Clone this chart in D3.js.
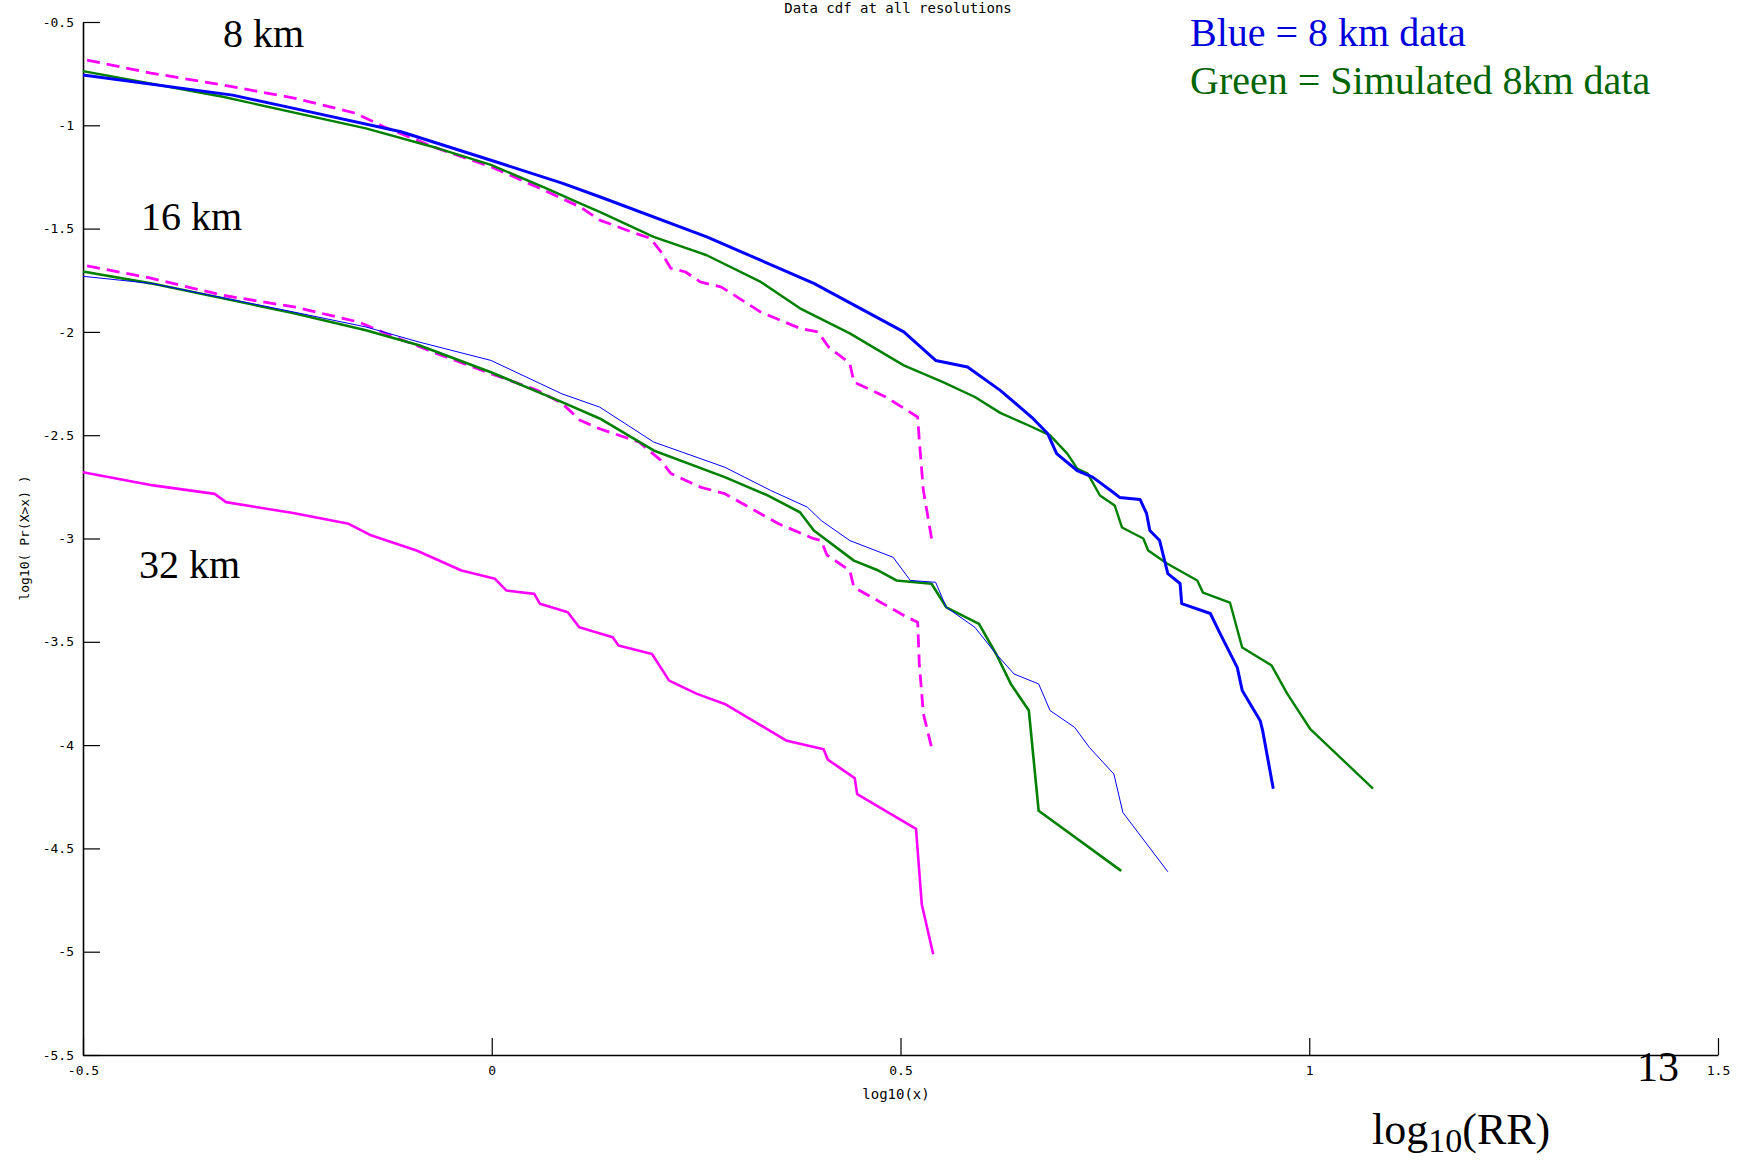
<!DOCTYPE html>
<html>
<head>
<meta charset="utf-8">
<script src="https://cdn.jsdelivr.net/npm/d3@7"></script>
<style>
  html, body { margin: 0; padding: 0; background: #fff; }
  svg { display: block; }
</style>
</head>
<body>
<svg id="chart" width="1744" height="1161"></svg>
<script>
// ---- data: [log10(x), log10(Pr(X>x))] ----
const blue8 = [[-0.5,-0.757],[-0.317,-0.854],[-0.242,-0.918],[-0.111,-1.031],[-0.001,-1.169],[0.086,-1.28],[0.132,-1.346],[0.263,-1.540],[0.394,-1.765],[0.504,-2.000],[0.543,-2.138],[0.582,-2.170],[0.622,-2.283],[0.646,-2.364],[0.662,-2.419],[0.680,-2.492],[0.691,-2.589],[0.716,-2.671],[0.735,-2.703],[0.760,-2.776],[0.768,-2.801],[0.793,-2.811],[0.801,-2.879],[0.805,-2.961],[0.817,-3.010],[0.827,-3.170],[0.842,-3.218],[0.844,-3.315],[0.879,-3.363],[0.891,-3.460],[0.912,-3.625],[0.918,-3.736],[0.940,-3.882],[0.943,-3.930],[0.956,-4.211]];
const green8 = [[-0.5,-0.738],[-0.329,-0.862],[-0.154,-1.015],[-0.067,-1.110],[-0.001,-1.192],[0.064,-1.300],[0.108,-1.378],[0.132,-1.419],[0.198,-1.540],[0.263,-1.629],[0.329,-1.758],[0.377,-1.886],[0.438,-2.007],[0.504,-2.162],[0.552,-2.243],[0.591,-2.315],[0.622,-2.392],[0.657,-2.453],[0.683,-2.501],[0.704,-2.589],[0.716,-2.661],[0.729,-2.686],[0.744,-2.792],[0.762,-2.840],[0.771,-2.947],[0.797,-3.000],[0.803,-3.058],[0.826,-3.121],[0.863,-3.203],[0.870,-3.262],[0.903,-3.310],[0.918,-3.528],[0.954,-3.615],[0.973,-3.751],[1.001,-3.921],[1.078,-4.211]];
const magenta8 = [[-0.495,-0.684],[-0.417,-0.747],[-0.329,-0.805],[-0.242,-0.868],[-0.167,-0.941],[-0.132,-1.007],[-0.067,-1.111],[-0.001,-1.201],[0.064,-1.314],[0.108,-1.395],[0.132,-1.459],[0.176,-1.523],[0.194,-1.547],[0.207,-1.613],[0.219,-1.692],[0.237,-1.710],[0.255,-1.758],[0.281,-1.783],[0.329,-1.904],[0.377,-1.983],[0.399,-2.000],[0.412,-2.073],[0.438,-2.152],[0.443,-2.243],[0.482,-2.315],[0.521,-2.412],[0.523,-2.525],[0.528,-2.767],[0.538,-3.000]];
const blue16 = [[-0.5,-1.731],[-0.417,-1.765],[-0.242,-1.904],[-0.154,-1.976],[-0.089,-2.049],[-0.001,-2.138],[0.086,-2.300],[0.132,-2.364],[0.198,-2.533],[0.285,-2.655],[0.341,-2.767],[0.386,-2.848],[0.403,-2.913],[0.438,-3.010],[0.491,-3.091],[0.512,-3.203],[0.543,-3.212],[0.556,-3.333],[0.591,-3.430],[0.617,-3.559],[0.639,-3.656],[0.669,-3.704],[0.683,-3.833],[0.713,-3.914],[0.731,-4.011],[0.761,-4.140],[0.772,-4.326],[0.827,-4.613]];
const green16 = [[-0.5,-1.708],[-0.417,-1.765],[-0.329,-1.837],[-0.242,-1.910],[-0.154,-1.992],[-0.089,-2.065],[-0.001,-2.195],[0.086,-2.340],[0.132,-2.419],[0.198,-2.574],[0.285,-2.703],[0.338,-2.792],[0.377,-2.873],[0.394,-2.961],[0.443,-3.107],[0.473,-3.155],[0.495,-3.203],[0.538,-3.219],[0.556,-3.333],[0.596,-3.413],[0.617,-3.559],[0.635,-3.704],[0.657,-3.833],[0.669,-4.318],[0.770,-4.609]];
const magenta16 = [[-0.495,-1.680],[-0.417,-1.740],[-0.329,-1.823],[-0.242,-1.879],[-0.163,-1.952],[-0.124,-2.016],[-0.067,-2.105],[-0.001,-2.202],[0.056,-2.283],[0.086,-2.346],[0.108,-2.428],[0.132,-2.469],[0.180,-2.533],[0.207,-2.622],[0.219,-2.685],[0.255,-2.751],[0.285,-2.783],[0.351,-2.929],[0.394,-3.001],[0.403,-3.010],[0.410,-3.080],[0.438,-3.155],[0.443,-3.236],[0.508,-3.381],[0.521,-3.405],[0.523,-3.607],[0.528,-3.849],[0.538,-4.011]];
const magenta32 = [[-0.5,-2.679],[-0.414,-2.743],[-0.339,-2.784],[-0.325,-2.824],[-0.243,-2.877],[-0.175,-2.929],[-0.147,-2.986],[-0.092,-3.058],[-0.037,-3.155],[0.004,-3.195],[0.018,-3.252],[0.052,-3.268],[0.059,-3.316],[0.093,-3.357],[0.107,-3.430],[0.148,-3.478],[0.155,-3.518],[0.196,-3.559],[0.217,-3.688],[0.251,-3.752],[0.285,-3.801],[0.361,-3.979],[0.406,-4.020],[0.411,-4.070],[0.444,-4.160],[0.447,-4.237],[0.519,-4.406],[0.526,-4.770],[0.540,-5.012]];

const xTicks = [-0.5, 0, 0.5, 1, 1.5];
const yTicks = [-0.5, -1, -1.5, -2, -2.5, -3, -3.5, -4, -4.5, -5, -5.5];

const titleText = "Data cdf at all resolutions";
const xLabel = "log10(x)";
const yLabel = "log10( Pr(X>x) )";
const resolutionLabels = [["8 km", 223, 47], ["16 km", 141, 230], ["32 km", 139, 578]];
const legendLines = [["Blue = 8 km data", "#0000dd"], ["Green = Simulated 8km data", "#006400"]];

// ---- drawing ----
const svg = d3.select("#chart");
svg.append("rect").attr("width", 1744).attr("height", 1161).attr("fill", "#fff");

const x = d3.scaleLinear().domain([-0.5, 1.5]).range([83, 1718]);
const y = d3.scaleLinear().domain([-5.5, -0.5]).range([1055, 22]);

const mono = "'DejaVu Sans Mono', monospace";
const serif = "'Liberation Serif', 'Times New Roman', serif";

// axes
const yAxis = d3.axisLeft(y).tickValues(yTicks).tickFormat(d => String(d))
  .tickSizeInner(-17).tickSizeOuter(0).tickPadding(9);
const xAxis = d3.axisBottom(x).tickValues(xTicks).tickFormat(d => String(d))
  .tickSizeInner(-17).tickSizeOuter(0).tickPadding(11);

const gy = svg.append("g").attr("transform", `translate(${x(-0.5)},0)`).call(yAxis);
const gx = svg.append("g").attr("transform", `translate(0,${y(-5.5)})`).call(xAxis);
[gx, gy].forEach(g => {
  g.selectAll("text").attr("font-family", mono).attr("font-size", 13).attr("fill", "#000");
  g.selectAll("line").attr("stroke", "#000").attr("stroke-width", 1.2);
  g.select(".domain").attr("stroke", "#000").attr("stroke-width", 1.6);
});

// lines
const line = d3.line().x(d => x(d[0])).y(d => y(d[1]));
const series = [
  [magenta32, "#ff00ff", 2.6, null],
  [magenta16, "#ff00ff", 2.8, "13,7"],
  [magenta8, "#ff00ff", 2.8, "13,7"],
  [green16, "#008000", 2.6, null],
  [blue16, "#0000ff", 1, null],
  [green8, "#008000", 2.4, null],
  [blue8, "#0000ff", 3, null]
];
series.forEach(([data, color, w, dash]) => {
  const p = svg.append("path").datum(data)
    .attr("d", line)
    .attr("fill", "none")
    .attr("stroke", color)
    .attr("stroke-width", w)
    .attr("stroke-linejoin", "round");
  if (dash) p.attr("stroke-dasharray", dash);
});

// title
svg.append("text").attr("x", 898).attr("y", 13).attr("text-anchor", "middle")
  .attr("font-family", mono).attr("font-size", 14).text(titleText);

// axis labels
svg.append("text").attr("x", 896).attr("y", 1099).attr("text-anchor", "middle")
  .attr("font-family", mono).attr("font-size", 14).text(xLabel);
svg.append("text").attr("transform", "translate(29,538) rotate(-90)").attr("text-anchor", "middle")
  .attr("font-family", mono).attr("font-size", 13).text(yLabel);

// resolution labels
resolutionLabels.forEach(([t, px, py]) => {
  svg.append("text").attr("x", px).attr("y", py)
    .attr("font-family", serif).attr("font-size", 40).attr("fill", "#000").text(t);
});

// legend text
legendLines.forEach(([t, c], i) => {
  svg.append("text").attr("x", 1190).attr("y", 46 + i * 48)
    .attr("font-family", serif).attr("font-size", 40).attr("fill", c).text(t);
});

// slide number and big axis caption
svg.append("text").attr("x", 1637).attr("y", 1081)
  .attr("font-family", serif).attr("font-size", 42).text("13");
const cap = svg.append("text").attr("x", 1372).attr("y", 1144)
  .attr("font-family", serif).attr("font-size", 44);
cap.append("tspan").text("log");
cap.append("tspan").attr("font-size", 34).attr("dy", 8).text("10");
cap.append("tspan").attr("dy", -8).text("(RR)");
</script>
</body>
</html>
